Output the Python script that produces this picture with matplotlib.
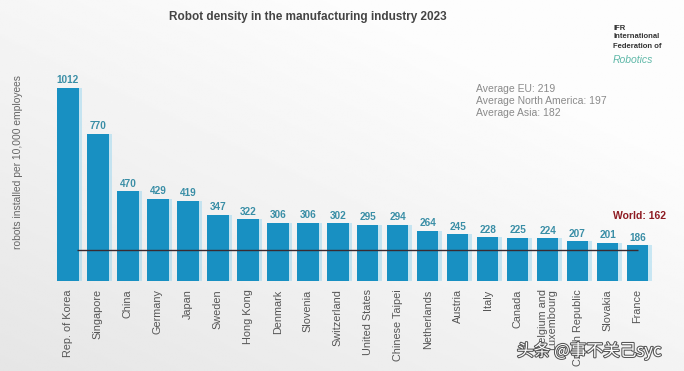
import numpy as np
import matplotlib.pyplot as plt
import matplotlib.patheffects as pe

plt.rcParams['font.family'] = ['Liberation Sans', 'DejaVu Sans']

countries = ['Rep. of Korea', 'Singapore', 'China', 'Germany', 'Japan', 'Sweden',
             'Hong Kong', 'Denmark', 'Slovenia', 'Switzerland', 'United States',
             'Chinese Taipei', 'Netherlands', 'Austria', 'Italy', 'Canada',
             'Belgium and\nLuxembourg', 'Czech Republic', 'Slovakia', 'France']
density = [1012, 770, 470, 429, 419, 347, 322, 306, 306, 302, 295, 294,
           264, 245, 228, 225, 224, 207, 201, 186]
world = 162
averages = ['Average EU: 219', 'Average North America: 197', 'Average Asia: 182']

W, H = 684, 371
fig = plt.figure(figsize=(W / 100, H / 100), dpi=100)

# gradient background
bg = fig.add_axes([0, 0, 1, 1], zorder=-10)
gx = np.linspace(0, 1, 200)
gy = np.linspace(0, 1, 200)
GX, GY = np.meshgrid(gx, gy)
grad = 0.90 + 0.09 * np.clip(0.6 * GX + 0.7 * (1 - GY), 0, 1)
bg.imshow(grad, cmap='gray', vmin=0, vmax=1, aspect='auto', extent=[0, 1, 0, 1])
bg.axis('off')

ax = fig.add_axes([52 / W, (H - 281) / H, 605 / W, 221 / H])
ax.patch.set_alpha(0)
x = np.arange(len(countries))

# soft shadow behind bars
ax.bar(x + 0.06, density, width=0.84, color='#8fd3ef', alpha=0.45, zorder=1)
ax.bar(x, density, width=0.72, color='#1890c2', zorder=2)

for xi, v in zip(x, density):
    ax.text(xi, v + 14, str(v), ha='center', va='bottom', fontsize=7.2,
            fontweight='bold', color='#3a8ea6', zorder=4)

ax.hlines(world, 0.3, len(countries) - 1, color='#3a2a30', lw=1.0, zorder=3)

ax.set_xlim(-0.53, len(countries) - 0.35)
ax.set_ylim(0, 1157)
ax.set_xticks(x)
ax.set_xticklabels(countries, rotation=90, fontsize=7.8, color='#555555',
                   linespacing=0.95)
ax.tick_params(axis='x', length=0, pad=6)
ax.set_yticks([])
for s in ax.spines.values():
    s.set_visible(False)

fig.text(666 / W, 1 - 216 / H, f'World: {world}', ha='right', va='center',
         fontsize=7.5, fontweight='bold', color='#8e1b22')

fig.text(18 / W, 1 - 162 / H, 'robots installed per 10,000 employees', rotation=90,
         ha='center', va='center', fontsize=7.4, color='#666666')
fig.text(308 / W, 1 - 17 / H, 'Robot density in the manufacturing industry 2023',
         ha='center', va='center', fontsize=8.5, fontweight='bold', color='#444444')

for i, t in enumerate(averages):
    fig.text(476 / W, 1 - (89 + i * 12) / H, t, ha='left', va='center',
             fontsize=7.5, color='#8a8a8a')

# IFR logo text
logo = ['IFR', 'International', 'Federation of']
for i, t in enumerate(logo):
    fig.text(613 / W, 1 - (28 + i * 9) / H, t, ha='left', va='center',
             fontsize=5.5, color='#333333', fontweight='bold')
fig.text(613 / W, 1 - 60 / H, 'Robotics', ha='left', va='center', fontsize=7.5,
         color='#5fb8a8', style='italic')

# watermark
fig.text(517 / W, 1 - 351 / H, '头条 @事不关己syc', ha='left', va='center',
         fontsize=12, color='white', family=['Noto Sans CJK SC', 'DejaVu Sans'],
         path_effects=[pe.withStroke(linewidth=1.5, foreground='#555555')])

fig.savefig('out.png', dpi=100)
